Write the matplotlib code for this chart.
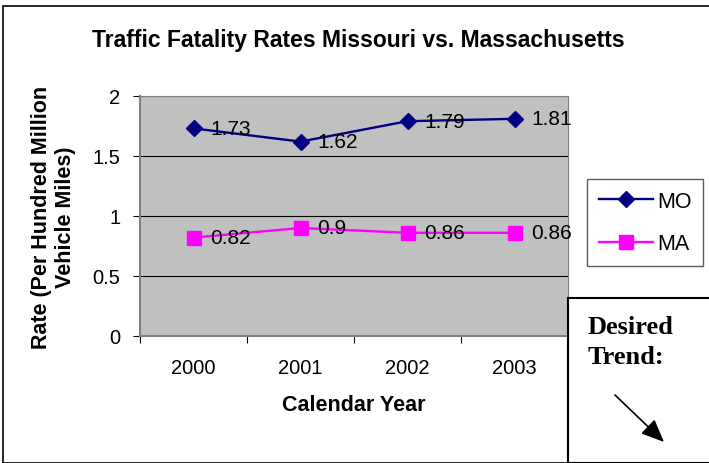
import matplotlib.pyplot as plt
from matplotlib.patches import Rectangle, FancyArrowPatch

# datos
years = ["2000", "2001", "2002", "2003"]
mo = [1.73, 1.62, 1.79, 1.81]
ma = [0.82, 0.9, 0.86, 0.86]

W, H = 709, 464
fig = plt.figure(figsize=(W / 100, H / 100), dpi=100)
plt.rcParams["font.family"] = ["Liberation Sans", "DejaVu Sans"]

# marco exterior
fig.patches.append(Rectangle((3 / W, 0), 1, 1 - 7 / H, transform=fig.transFigure,
                             fill=False, edgecolor="black", lw=1.2))

# area del grafico (pixeles: x 140-568, y 97-337)
ax = fig.add_axes([140 / W, 1 - 337 / H, 428 / W, 240 / H])
ax.set_facecolor("#c0c0c0")
x = range(len(years))
ax.plot(x, mo, color="#000080", marker="D", markersize=8.5, lw=1.7, label="MO")
ax.plot(x, ma, color="#ff00ff", marker="s", markersize=10.5, lw=1.7, label="MA")
for i in x:
    ax.annotate(str(mo[i]), (i, mo[i]), xytext=(12, 0), textcoords="offset points",
                ha="left", va="center", fontsize=15)
    ax.annotate(str(ma[i]), (i, ma[i]), xytext=(12, 0), textcoords="offset points",
                ha="left", va="center", fontsize=15)

ax.set_xlim(-0.5, 3.5)
ax.set_ylim(0, 2)
ax.set_xticks([-0.5, 0.5, 1.5, 2.5, 3.5])
ax.set_xticklabels([])
ax.set_xticks(list(x), years, minor=True)
ax.tick_params(axis="x", which="minor", length=0, labelsize=14.5, pad=16)
ax.tick_params(axis="x", which="major", length=5, direction="out")
ax.set_yticks([0, 0.5, 1, 1.5, 2])
ax.set_yticklabels(["0", "0.5", "1", "1.5", "2"])
ax.tick_params(axis="y", labelsize=14.5, length=5, pad=9)
ax.grid(True, axis="y", color="black", lw=0.8)
ax.set_axisbelow(True)
for s in ["top", "right", "left", "bottom"]:
    ax.spines[s].set_color("#808080")
ax.spines["left"].set_linewidth(1.5)
ax.spines["bottom"].set_linewidth(1.5)

ax.set_xlabel("Calendar Year", fontsize=15.5, fontweight="bold", labelpad=12)
ax.set_ylabel("Rate (Per Hundred Million\nVehicle Miles)", fontsize=15.5,
              fontweight="bold", labelpad=12, linespacing=1.2)

fig.text(358 / W, 1 - 40 / H, "Traffic Fatality Rates Missouri vs. Massachusetts",
         ha="center", va="center", fontsize=16.5, fontweight="bold")

leg = fig.legend(loc="upper left", bbox_to_anchor=(587 / W, 1 - 180 / H),
                 fontsize=15.5, frameon=True, fancybox=False, edgecolor="#333333",
                 handlelength=2.5, handletextpad=0.2, borderpad=0.55,
                 labelspacing=1.0, borderaxespad=0)
leg.get_frame().set_linewidth(1)

# recuadro "Desired Trend"
fig.patches.append(Rectangle((568 / W, 0), 1, 1 - 299 / H, transform=fig.transFigure,
                             facecolor="white", edgecolor="black", lw=1.5, zorder=5))
fig.text(588 / W, 1 - 327 / H, "Desired", fontsize=19, fontweight="bold",
         family=["Liberation Serif"], va="center", zorder=6)
fig.text(588 / W, 1 - 358 / H, "Trend:", fontsize=19, fontweight="bold",
         family=["Liberation Serif"], va="center", zorder=6)
fig.patches.append(FancyArrowPatch(
    (615 / W, 1 - 396 / H), (664 / W, 1 - 443 / H), transform=fig.transFigure,
    arrowstyle="-|>,head_length=14,head_width=6", color="black", lw=1.2,
    shrinkA=0, shrinkB=0, zorder=7))

fig.savefig("out.png", dpi=100)
